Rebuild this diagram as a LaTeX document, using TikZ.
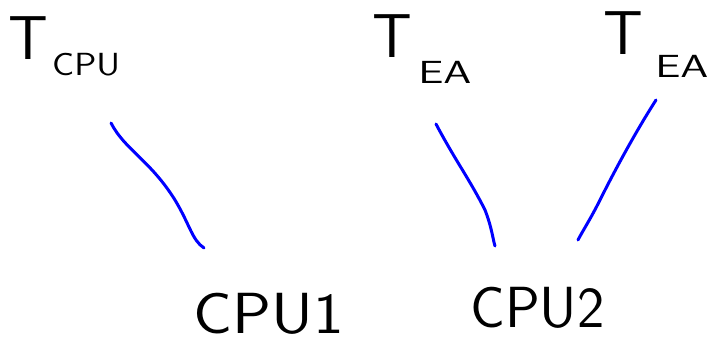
\documentclass[tikz,border=0pt]{standalone}
\begin{document}
\begin{tikzpicture}[x=1pt,y=-1pt,
  big/.style={inner sep=0pt,anchor=base west,font=\sffamily\fontsize{62}{62}\selectfont},
  sub/.style={inner sep=0pt,anchor=base west,font=\sffamily\fontsize{32}{32}\selectfont},
  lbl/.style={inner sep=0pt,anchor=base west,font=\sffamily\fontsize{58}{58}\selectfont},
  wire/.style={draw=blue,line width=3pt,line cap=round,line join=round}]
\useasboundingbox (0,0) rectangle (707,344);
% T_CPU
\node[big] (t1) at (8,60) {T};
\node[sub,xscale=1.15] (t1s) at (52,76) {CPU};
% T_EA
\node[big] (t2) at (372,58) {T};
\node[sub,xscale=1.4] (t2s) at (418,84) {EA};
% T_EA (right)
\node[big] (t3) at (603,55) {T};
\node[sub,xscale=1.4] (t3s) at (655,78) {EA};
% CPUs
\node[lbl,xscale=1.12] (c1) at (193,334) {CPU1};
\node[lbl] (c2) at (470,328) {CPU2};
% wires
\coordinate (a1) at (111,123);
\coordinate (a2) at (204,248);
\coordinate (b1) at (436,124);
\coordinate (b2) at (495,246);
\coordinate (d1) at (656,100);
\coordinate (d2) at (578,240);
\draw[wire] (a1) .. controls (125,150) and (150,160) .. (175,200) .. controls (190,225) and (192,240) .. (a2);
\draw[wire] (b1) .. controls (455,160) and (470,180) .. (485,210) .. controls (492,228) and (493,240) .. (b2);
\draw[wire] (d1) .. controls (640,125) and (620,160) .. (600,200) .. controls (590,220) and (582,232) .. (d2);
\end{tikzpicture}
\end{document}
